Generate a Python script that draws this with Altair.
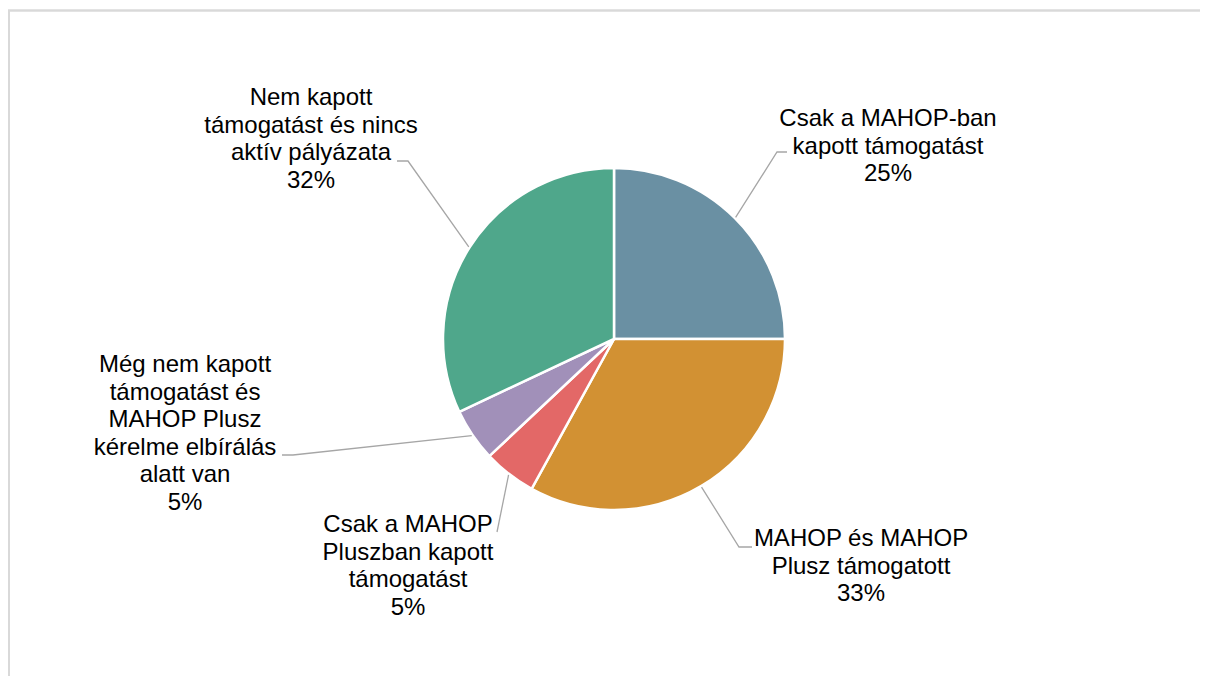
import math
import altair as alt
import pandas as pd

# ---- data ----
categories = [
    "Csak a MAHOP-ban kapott támogatást",
    "MAHOP és MAHOP Plusz támogatott",
    "Csak a MAHOP Pluszban kapott támogatást",
    "Még nem kapott támogatást és MAHOP Plusz kérelme elbírálás alatt van",
    "Nem kapott támogatást és nincs aktív pályázata",
]
values = [25, 33, 5, 5, 32]
label_lines = [
    ["Csak a MAHOP-ban", "kapott támogatást"],
    ["MAHOP és MAHOP", "Plusz támogatott"],
    ["Csak a MAHOP", "Pluszban kapott", "támogatást"],
    ["Még nem kapott", "támogatást és", "MAHOP Plusz", "kérelme elbírálás", "alatt van"],
    ["Nem kapott", "támogatást és nincs", "aktív pályázata"],
]
colors = ["#6a90a3", "#d29133", "#e36867", "#a190b9", "#4fa78b"]

# ---- layout (page pixel coordinates) ----
W, H = 1192, 668
MARGIN = 8
CX, CY, R = 614, 339, 171
label_anchor = [(888, 126), (861, 546), (408, 532), (185, 372), (311, 105)]
leader_elbow = [(777, 152), (739, 547), (497, 532), (293, 455), (408, 161)]
leader_end = [(787, 152), (752, 547), (497, 532), (282, 455), (397, 161)]

total = sum(values)
pie_df = pd.DataFrame({"cat": categories, "val": values, "ord": list(range(len(values)))})

text_rows, line_rows = [], []
cum = 0.0
for i, v in enumerate(values):
    mid = (cum + v / 2) / total * 2 * math.pi
    cum += v
    sx = CX + (R + 1) * math.sin(mid)
    sy = CY - (R + 1) * math.cos(mid)
    pts = [(sx, sy), leader_elbow[i], leader_end[i]]
    for k, (px, py) in enumerate(pts):
        line_rows.append({"cat": categories[i], "k": k, "px": px, "py": py})
    pct = round(v / total * 100)
    text_rows.append({
        "cat": categories[i],
        "txt": "\n".join(label_lines[i] + [f"{pct}%"]),
        "px": label_anchor[i][0],
        "py": label_anchor[i][1],
    })
text_df = pd.DataFrame(text_rows)
line_df = pd.DataFrame(line_rows)

xs = alt.Scale(domain=[MARGIN, MARGIN + W], range=[0, W])
ys = alt.Scale(domain=[MARGIN, MARGIN + H], range=[0, H])

pie = alt.Chart(pie_df).mark_arc(
    outerRadius=R, stroke="white", strokeWidth=2.5
).encode(
    theta=alt.Theta("val:Q", stack=True),
    order=alt.Order("ord:Q", sort="ascending"),
    color=alt.Color("cat:N", scale=alt.Scale(domain=categories, range=colors), legend=None),
    x=alt.value(CX - MARGIN),
    y=alt.value(CY - MARGIN),
)

leaders = alt.Chart(line_df).mark_line(color="#a6a6a6", strokeWidth=1.3).encode(
    x=alt.X("px:Q", scale=xs, axis=None),
    y=alt.Y("py:Q", scale=ys, axis=None),
    detail="cat:N",
    order="k:Q",
)

labels = alt.Chart(text_df).mark_text(
    lineBreak="\n", align="center", baseline="alphabetic",
    font="Liberation Sans", fontSize=24, lineHeight=27.5, color="#000000",
).encode(
    x=alt.X("px:Q", scale=xs, axis=None),
    y=alt.Y("py:Q", scale=ys, axis=None),
    text="txt:N",
)

frame_top = alt.Chart(pie_df).mark_rule(color="#d9d9d9", strokeWidth=1.6).encode(
    x=alt.value(0), x2=alt.value(W), y=alt.value(2.5)
)
frame_left = alt.Chart(pie_df).mark_rule(color="#d9d9d9", strokeWidth=1.6).encode(
    x=alt.value(0.8), y=alt.value(2), y2=alt.value(H)
)

chart = alt.layer(frame_top, frame_left, pie, leaders, labels).properties(
    width=W, height=H, autosize=alt.AutoSizeParams(type="none"), padding=0
).configure_view(stroke=None)

chart.save("out.html", embed_options={"renderer": "svg", "actions": False})
